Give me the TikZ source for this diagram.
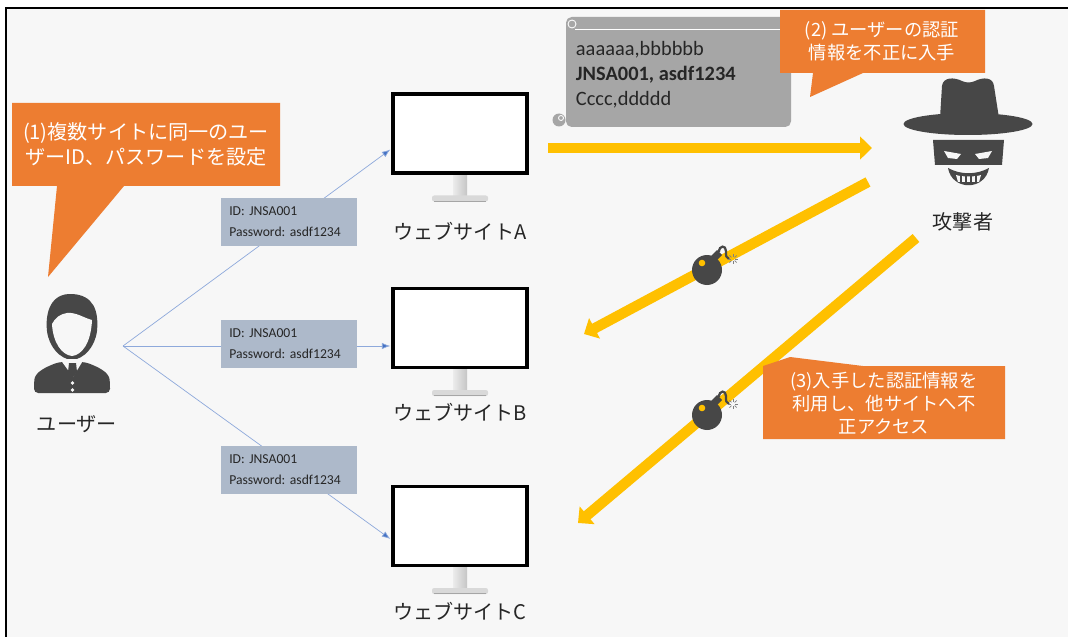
\documentclass[tikz,border=0pt]{standalone}
\usepackage{fontspec}
\setmainfont{Carlito}
\newfontfamily\jpfont{Noto Sans CJK JP}
\usetikzlibrary{arrows.meta, calc}

\begin{document}
\frenchspacing
\begin{tikzpicture}[x=0.025cm, y=-0.025cm,
    callout/.style={fill=calloutOrange},
    calloutText/.style={text=white, align=center, font=\jpfont\fontsize{13}{16.4}\selectfont},
    credBox/.style={fill=credFill, anchor=west, minimum width=3.4cm, minimum height=1.22cm,
        text width=3.0cm, inner xsep=0.2cm, align=left, text=textDark,
        font=\fontsize{9.7}{15}\selectfont},
    screen/.style={draw=black, line width=2.3pt, fill=white, minimum width=3.35cm,
        minimum height=1.97cm, inner sep=0pt},
    siteLabel/.style={text=textDark, font=\jpfont\fontsize{14.3}{16}\selectfont},
    credLine/.style={draw=credBlue, line width=0.5pt, -{Latex[length=6pt,width=4.5pt,fill=tipBlue]}},
    attack/.style={draw=attackYellow, line width=7.4pt, -{Triangle[length=8.5pt,width=16pt]}},
    ]
    % Define colours
    \definecolor{bgGrey}{HTML}{F7F7F7}
    \definecolor{calloutOrange}{HTML}{ED7D31}
    \definecolor{credFill}{HTML}{ADB9CA}
    \definecolor{credBlue}{HTML}{8EA9DB}
    \definecolor{tipBlue}{HTML}{4472C4}
    \definecolor{scrollGrey}{HTML}{A6A6A6}
    \definecolor{attackYellow}{HTML}{FFC000}
    \definecolor{iconGrey}{HTML}{474747}
    \definecolor{textDark}{HTML}{262626}

    % Page and frame
    \useasboundingbox (0,0) rectangle (1068,637);
    \fill[white] (0,0) rectangle (1068,637);
    \fill[bgGrey] (6,9) rectangle (1068,637);
    \draw[black, line width=1.6pt] (6.3,637) -- (6.3,8.3) -- (1068,8.3);

    % Draw the user
    \fill[iconGrey] (72,294) .. controls (51,293) and (45,312) .. (47,331)
        .. controls (49,347) and (60,359) .. (72,360)
        .. controls (84,359) and (95,347) .. (97,331)
        .. controls (99,310) and (93,295) .. cycle;
    \fill[bgGrey] (52,324) .. controls (53,343) and (62,355) .. (72,356)
        .. controls (82,355) and (91,343) .. (92,320)
        .. controls (84,318) and (76,312) .. (67,313)
        .. controls (60,314) and (55,318) .. cycle;
    \fill[iconGrey, rounded corners=3pt] (34,393) -- (34,384)
        .. controls (35,372) and (46,367) .. (59,362) -- (85,362)
        .. controls (98,367) and (109,372) .. (110,384) -- (110,393) -- cycle;
    \fill[bgGrey] (60,359) -- (84,359) -- (73,377) -- cycle;
    \fill[iconGrey] (69,363) -- (76,363) -- (77,372) -- (72.5,378) -- (68,372) -- cycle;
    \fill[bgGrey] (72.5,383) circle [radius=1.8];
    \fill[bgGrey] (72.5,390) circle [radius=1.8];
    \node[siteLabel] (userLabel) at (77,424) {ユーザー};
    \coordinate (userHub) at (123,346);

    % Draw the three monitors
    \foreach \name/\cy/\ly/\lbl in {siteA/133.5/231/A, siteB/328/412/B, siteC/526/611/C} {
        \shade[left color=gray!15, right color=gray!45] (453,\cy+40) rectangle (467,\cy+63);
        \fill[gray!30, rounded corners=1.5pt] (432,\cy+62) rectangle (488,\cy+68);
        \draw[gray!70, line width=0.6pt] (434,\cy+67.5) -- (486,\cy+67.5);
        \node[screen] (\name) at (460,\cy) {};
        \fill[black] ($(\name.south west)+(0,-2)$) rectangle (\name.south east);
        \node[siteLabel] (\name-label) at (460,\ly) {ウェブサイト\lbl};
    }

    % Credentials sent to every site
    \draw[credLine] (userHub) -- ($(siteA.west)+(-1,16)$);
    \draw[credLine] (userHub) -- ($(siteB.west)+(-1,18)$);
    \draw[credLine] (userHub) -- ($(siteC.west)+(-1,13)$);
    \node[credBox] (credA) at (221,222) {ID: JNSA001\\Password: asdf1234};
    \node[credBox] (credB) at (221,344) {ID: JNSA001\\Password: asdf1234};
    \node[credBox] (credC) at (221,470) {ID: JNSA001\\Password: asdf1234};

    % Callout (1)
    \fill[callout] (12,103) -- (280,103) -- (280,186) -- (124,186) -- (48,277)
        -- (57,186) -- (12,186) -- cycle;
    \node[calloutText, font=\jpfont\fontsize{14.3}{17.8}\selectfont] (noteOne) at (146,144)
        {(1)複数サイトに同一のユー\\ザーID、パスワードを設定};

    % Draw the leaked list
    \fill[scrollGrey, rounded corners=4pt] (566,17) rectangle (791,127);
    \draw[white, line width=0.6pt] (575,29) -- (791,29);
    \draw[white, line width=0.6pt] (572,24) circle [radius=4];
    \fill[scrollGrey] (559,120) circle [radius=6.5];
    \draw[white, line width=0.6pt] (561,118) circle [radius=2.5];
    \node[anchor=west, align=left, text=textDark, font=\fontsize{14.5}{17.8}\selectfont]
        (leakList) at (571,75) {aaaaaa,bbbbbb\\\textbf{JNSA001, asdf1234}\\Cccc,ddddd};

    % Callout (2)
    \fill[callout] (780,10) -- (985,10) -- (985,73) -- (863,73) -- (810,97)
        -- (813,73) -- (780,73) -- cycle;
    \node[calloutText] (noteTwo) at (882,41) {(2) ユーザーの認証\\情報を不正に入手};

    % Draw the attacker
    \fill[iconGrey] (940,118) -- (942,86) .. controls (943,77) and (954,77) .. (962,81)
        .. controls (966,83) and (971,83) .. (975,81)
        .. controls (983,77) and (993,77) .. (994,86) -- (999,118) -- cycle;
    \fill[iconGrey] (968,124) ellipse [x radius=64.5, y radius=11];
    \fill[iconGrey] (933,140) -- (1004,140) -- (1002,165) -- (935,165) -- cycle;
    \fill[bgGrey] (944,151) -- (961,154) -- (957,159) -- (948,158) -- cycle;
    \fill[bgGrey] (992,151) -- (975,154) -- (979,159) -- (988,158) -- cycle;
    \fill[iconGrey] (948,168) .. controls (952,191) and (985,191) .. (989,168)
        .. controls (976,175) and (961,175) .. cycle;
    \fill[bgGrey] (956,175) .. controls (962,177) and (975,177) .. (981,175)
        -- (979,182) -- (958,182) -- cycle;
    \foreach \tx in {961,966,971,976}
        \draw[iconGrey, line width=0.9pt] (\tx,174) -- (\tx,183);
    \node[siteLabel] (attackerLabel) at (963,222) {攻撃者};

    % Attack arrows
    \coordinate (grabStart) at (548,148);
    \coordinate (grabEnd) at (872,148);
    \coordinate (hitStartB) at (868,182);
    \coordinate (hitEndB) at (584,334);
    \coordinate (hitStartC) at (916,238);
    \coordinate (hitEndC) at (578,523);
    \draw[attack] (grabStart) -- (grabEnd);
    \draw[attack] (hitStartB) -- (hitEndB);
    \draw[attack] (hitStartC) -- (hitEndC);

    % Bombs on the attack lines
    \foreach \bx/\by in {707/270, 707/415} {
        \fill[iconGrey] (\bx,\by) circle [radius=15];
        \fill[attackYellow] (\bx-5,\by-7) circle [radius=3.3];
        \fill[iconGrey] (\bx+4,\by-14) -- (\bx+10,\by-20) -- (\bx+15,\by-15) -- (\bx+9,\by-9) -- cycle;
        \draw[iconGrey, line width=1.6pt] (\bx+12,\by-18) .. controls (\bx+12,\by-25) and (\bx+19,\by-25) .. (\bx+19,\by-19)
            .. controls (\bx+19,\by-13) .. (\bx+22,\by-11);
        \foreach \ang in {0,45,...,315}
            \draw[gray, line width=0.5pt] ($(\bx+26,\by-11)+(\ang:2.2)$) -- ($(\bx+26,\by-11)+(\ang:5)$);
    }

    % Callout (3)
    \fill[callout] (763,366) -- (790,357) -- (863,366) -- (1005,366) -- (1005,439)
        -- (763,439) -- cycle;
    \node[calloutText] (noteThree) at (884,403) {(3)入手した認証情報を\\利用し、他サイトへ不\\正アクセス};
\end{tikzpicture}
\end{document}
